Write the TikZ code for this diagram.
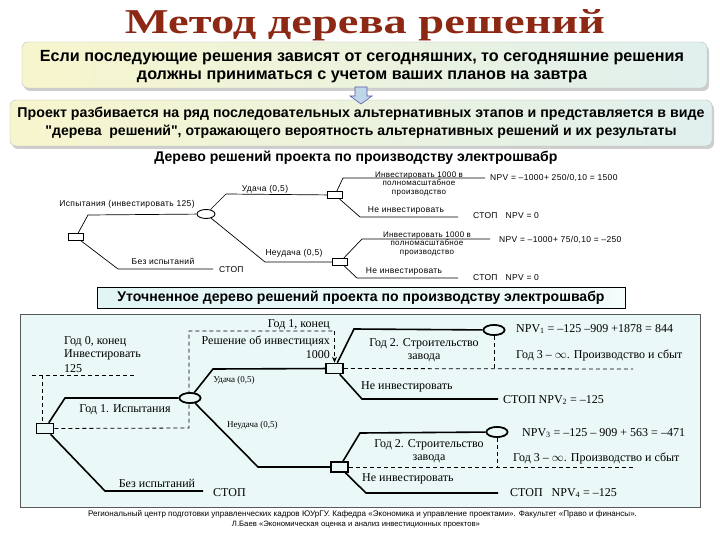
\documentclass[tikz,border=0pt]{standalone}
\usepackage{fontspec}
\setmainfont{Liberation Serif}
\setsansfont{Liberation Sans}
\newfontfamily\wsans[LetterSpace=4]{Liberation Sans}
\usetikzlibrary{shapes.geometric,shadows,arrows.meta}
\definecolor{titlered}{RGB}{140,40,20}
\definecolor{boxyel}{RGB}{247,245,205}
\definecolor{boxcyan}{RGB}{224,240,238}
\definecolor{hdrfill}{RGB}{225,245,245}
\definecolor{bigfill}{RGB}{234,248,248}
\definecolor{arrowblue}{RGB}{190,215,232}
\tikzset{
  infobox/.style={draw=gray!50, rounded corners=6pt, left color=boxyel, right color=boxcyan,
    drop shadow={shadow xshift=2pt, shadow yshift=-3pt, fill=gray!75}, inner sep=0pt},
  boxtxt/.style={font=\sffamily\bfseries, align=center, inner sep=0pt},
  small/.style={font=\wsans\fontsize{8.5}{9.5}\selectfont, inner sep=1pt, align=center},
  dsq/.style={draw, fill=white, minimum width=15pt, minimum height=7pt, inner sep=0pt, line width=0.9pt},
  chn/.style={draw, ellipse, fill=white, minimum width=18pt, minimum height=9pt, inner sep=0pt, line width=0.9pt},
  thn/.style={line width=0.7pt},
  ser/.style={font=\fontsize{12}{13}\selectfont, inner sep=1pt},
  sersmall/.style={font=\fontsize{9}{10}\selectfont, inner sep=1pt},
  dsqb/.style={draw, fill=bigfill, minimum width=17pt, minimum height=10pt, inner sep=0pt, line width=1.6pt},
  chnb/.style={draw, ellipse, fill=bigfill, minimum width=21pt, minimum height=10pt, inner sep=0pt, line width=1.6pt},
  thk/.style={line width=1.6pt},
  dsh/.style={line width=0.8pt, dash pattern=on 4pt off 3pt},
}
\begin{document}
\begin{tikzpicture}[x=1pt,y=-1pt]
\useasboundingbox (0,0) rectangle (720,540);
\fill[white] (0,0) rectangle (720,540);
% title
\node[text=titlered, anchor=base, inner sep=0pt] (title) at (365,34) {\resizebox{480pt}{24pt}{\bfseries Метод дерева решений}};
% info boxes
\node[infobox, minimum width=685pt, minimum height=46pt] (box1) at (364.5,65) {};
\node[boxtxt] (box1t) at (362,67) {\resizebox{644pt}{!}{Если последующие решения зависят от сегодняшних, то сегодняшние решения}\\[5pt]
\resizebox{450pt}{!}{должны приниматься с учетом ваших планов на завтра}};
\node[infobox, minimum width=702pt, minimum height=46pt] (box2) at (361,123) {};
\node[boxtxt] (box2t) at (box2.center) {\resizebox{687pt}{!}{Проект разбивается на ряд последовательных альтернативных этапов и представляется в виде}\\[4pt]
\resizebox{631pt}{!}{\textquotedbl дерева\ \ решений\textquotedbl, отражающего вероятность альтернативных решений и их результаты}};
\coordinate (arrtop) at (361,87);
\draw[draw=gray!70!blue, fill=arrowblue, line width=0.6pt] (arrtop) ++(-6,0) -- ++(12,0) -- ++(0,9) -- ++(5,0) -- ++(-11,8) -- ++(-11,-8) -- ++(5,0) -- cycle;
% heading
\node[boxtxt] (head1) at (356,158) {\resizebox{403pt}{!}{Дерево решений проекта по производству электрошвабр}};
% upper tree
\node[dsq] (a0) at (76,237) {};
\node[chn] (a1) at (206,214) {};
\node[dsq] (a2) at (335,195) {};
\node[dsq] (a3) at (340,262) {};
\coordinate (a0u) at (88,215);
\coordinate (a0d) at (118,269); \coordinate (a0e) at (213,269);
\coordinate (a1u) at (226,194);
\coordinate (a1d) at (265,262);
\coordinate (a2u) at (343,178); \coordinate (a2ue) at (485,178);
\coordinate (a2d) at (360,217); \coordinate (a2de) at (458,217);
\coordinate (a3u) at (362,239); \coordinate (a3ue) at (490,239);
\coordinate (a3d) at (357,278); \coordinate (a3de) at (458,278);
\draw[thn] (a0) -- (a0u) -- (a1);
\draw[thn] (a0) -- (a0d) -- (a0e);
\draw[thn] (a1) -- (a1u) -- (a2);
\draw[thn] (a1) -- (a1d) -- (a3);
\draw[thn] (a2) -- (a2u) -- (a2ue);
\draw[thn] (a2) -- (a2d) -- (a2de);
\draw[thn] (a3) -- (a3u) -- (a3ue);
\draw[thn] (a3) -- (a3d) -- (a3de);
\node[small] (l1) at (127,204) {Испытания (инвестировать 125)};
\node[small] (l2) at (163,261) {Без испытаний};
\node[small, anchor=west] (l3) at (218,270) {СТОП};
\node[small] (l4) at (265,189) {Удача (0,5)};
\node[small] (l5) at (294,253) {Неудача (0,5)};
\node[small, font=\wsans\fontsize{8}{8.5}\selectfont] (l6) at (419,184) {Инвестировать 1000 в\\полномасштабное\\производство};
\node[small, anchor=west] (l7) at (489,178) {NPV = –1000+ 250/0,10 = 1500};
\node[small] (l8) at (406,210) {Не инвестировать};
\node[small, anchor=west] (l9) at (472,216) {СТОП\ \ \ NPV = 0};
\node[small, font=\wsans\fontsize{8}{8.5}\selectfont] (l10) at (427,244) {Инвестировать 1000 в\\полномасштабное\\производство};
\node[small, anchor=west] (l11) at (498,240) {NPV = –1000+ 75/0,10 = –250};
\node[small] (l12) at (404,271) {Не инвестировать};
\node[small, anchor=west] (l13) at (472,278) {СТОП\ \ \ NPV = 0};
% refined tree header
\node[draw, line width=0.8pt, left color=hdrfill, right color=white!60!hdrfill, minimum width=528pt, minimum height=21pt, inner sep=0pt] (hdr) at (361,297.5) {};
\node[boxtxt] (hdrt) at (hdr.center) {\resizebox{487pt}{!}{Уточненное дерево решений проекта по производству электрошвабр}};
% big box
\node[draw=gray!70!black, line width=0.8pt, fill=bigfill, minimum width=680pt, minimum height=193pt, inner sep=0pt] (big) at (360,410.5) {};
% dashed guides
\coordinate (d0a) at (32,375); \coordinate (d0b) at (135,375); \coordinate (d0c) at (42,375);
\coordinate (d1a) at (189,428); \coordinate (d1b) at (189,331); \coordinate (d1c) at (334.5,331);
\coordinate (d2e) at (633,369); \coordinate (d3e) at (633,467);
\coordinate (d3b) at (494,369); \coordinate (d5b) at (497,467);
% nodes
\node[dsqb] (b0) at (45,428.5) {};
\node[chnb] (b1) at (190,398) {};
\node[dsqb] (b2) at (334.5,368.5) {};
\node[chnb] (b3) at (494,330) {};
\node[dsqb] (b4) at (339.5,467) {};
\node[chnb] (b5) at (497,432) {};
\draw[dsh] (d0a) -- (d0b);
\draw[dsh] (d0c) -- (b0.north -| d0c);
\draw[dsh] (b0.east) -- (d1a) -- (d1b) -- (d1c);
\draw[dsh, -{Stealth[length=6pt,width=5pt]}] (d1c) -- (b2.north);
\draw[dsh] (b2.east) -- (d2e);
\draw[dsh] (b3.south) -- (d3b);
\draw[dsh] (b4.east) -- (d3e);
\draw[dsh] (b5.south) -- (d5b);
% thick branches
\coordinate (c01) at (65,398);
\coordinate (c02) at (105,491); \coordinate (c02e) at (203,491);
\coordinate (c11) at (213,369);
\coordinate (c12) at (258,467);
\coordinate (c21) at (354,329);
\coordinate (c22) at (362,399); \coordinate (c22e) at (498,399);
\coordinate (c41) at (360,433);
\coordinate (c42) at (366,493); \coordinate (c42e) at (498,493);
\draw[thk] (b0) -- (c01) -- (b1);
\draw[thk] (b0) -- (c02) -- (c02e);
\draw[thk] (b1) -- (c11) -- (b2);
\draw[thk] (b1) -- (c12) -- (b4);
\draw[thk] (b2) -- (c21) -- (b3);
\draw[thk] (b2) -- (c22) -- (c22e);
\draw[thk] (b4) -- (c41) -- (b5);
\draw[thk] (b4) -- (c42) -- (c42e);
% redraw nodes on top
\node[dsqb] (b0t) at (b0) {};
\node[chnb] (b1t) at (b1) {};
\node[dsqb] (b2t) at (b2) {};
\node[chnb] (b3t) at (b3) {};
\node[dsqb] (b4t) at (b4) {};
\node[chnb] (b5t) at (b5) {};
% texts in big box
\node[ser, anchor=west] (t1) at (63,342) {Год 0, конец};
\node[ser, anchor=west] (t2) at (63,355) {Инвестировать};
\node[ser, anchor=west] (t3) at (63,369) {125};
\node[ser, anchor=east] (t4) at (331,325) {Год 1, конец};
\node[ser, anchor=east] (t5) at (331,341) {Решение об инвестициях};
\node[ser, anchor=east] (t6) at (331,355) {1000};
\node[ser] (t7) at (125,410) {Год 1. Испытания};
\node[sersmall] (t8) at (234,380) {Удача (0,5)};
\node[sersmall, anchor=west] (t9) at (226,425) {Неудача (0,5)};
\node[ser] (t10) at (157,483) {Без испытаний};
\node[ser, anchor=west] (t11) at (212,493) {СТОП};
\node[ser, align=center] (t12) at (424,350.5) {Год 2. Строительство\\завода};
\node[ser, anchor=west] (t13) at (360,387) {Не инвестировать};
\node[ser, anchor=west] (t14) at (515,329) {NPV\textsubscript{1} = –125 –909 +1878 = 844};
\node[ser, anchor=west] (t15) at (515,355) {Год 3 – $\infty$. Производство и сбыт};
\node[ser, anchor=west] (t16) at (502,400) {СТОП NPV\textsubscript{2} = –125};
\node[ser, align=center] (t17) at (429,451) {Год 2. Строительство\\завода};
\node[ser, anchor=west] (t18) at (361,479) {Не инвестировать};
\node[ser, anchor=west] (t19) at (521,433) {NPV\textsubscript{3} = –125 – 909 + 563 = –471};
\node[ser, anchor=west] (t20) at (512,458) {Год 3 – $\infty$. Производство и сбыт};
\node[ser, anchor=west] (t21) at (509,493) {СТОП\ \ \ NPV\textsubscript{4} = –125};
% footer
\node[inner sep=0pt, font=\sffamily] (f1) at (362.5,514) {\resizebox{549pt}{!}{Региональный центр подготовки управленческих кадров ЮУрГУ. Кафедра «Экономика и управление проектами». Факультет «Право и финансы».}};
\node[inner sep=0pt, font=\sffamily] (f2) at (356,525) {\resizebox{248pt}{!}{Л.Баев «Экономическая оценка и анализ инвестиционных проектов»}};
\end{tikzpicture}
\end{document}
